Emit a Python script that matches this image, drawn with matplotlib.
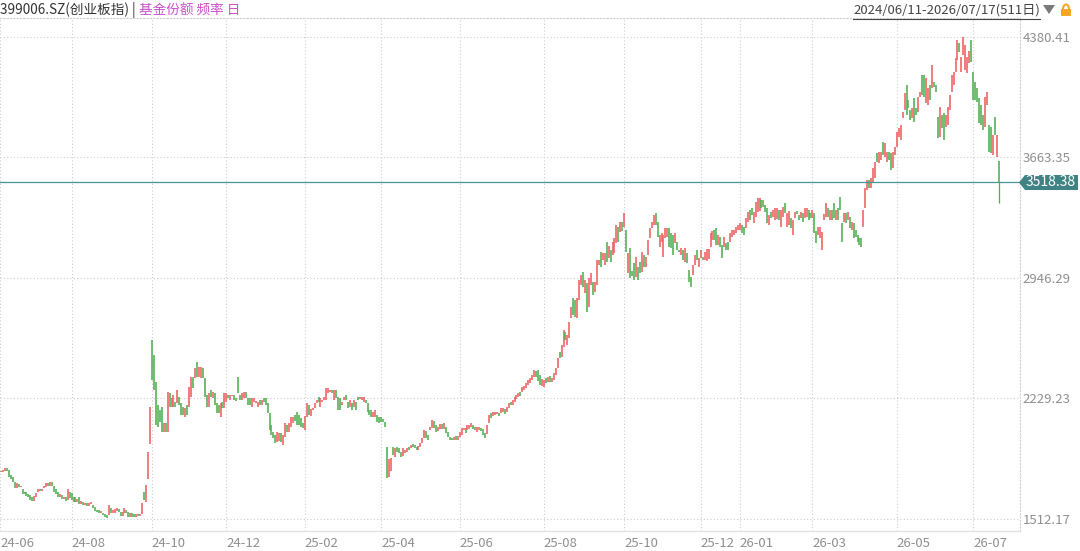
import matplotlib
matplotlib.use("Agg")
import matplotlib.pyplot as plt
from matplotlib.patches import Polygon, Rectangle, Arc
from matplotlib.lines import Line2D
import matplotlib.transforms as mtransforms

plt.rcParams['font.family'] = ['Noto Sans CJK SC', 'DejaVu Sans']

# (open, close) of each trading day, two months per list
s_2406 = [(1790, 1800), (1800, 1792), (1792, 1805), (1800, 1815), (1815, 1800), (1804, 1762), (1774, 1750), (1762, 1732), (1732, 1696), (1696, 1726),
          (1720, 1700), (1700, 1710), (1690, 1660), (1670, 1660), (1672, 1650), (1660, 1640), (1655, 1625), (1640, 1620), (1618, 1650), (1640, 1668),
          (1670, 1692), (1692, 1680), (1680, 1692), (1695, 1708), (1705, 1725), (1725, 1710), (1710, 1733), (1735, 1710), (1710, 1675), (1690, 1662),
          (1670, 1645), (1645, 1660), (1655, 1632), (1632, 1645), (1640, 1620), (1625, 1690), (1670, 1637)]
s_2408 = [(1665, 1625), (1640, 1615), (1640, 1615), (1615, 1630), (1640, 1600), (1600, 1620), (1612, 1595), (1595, 1610), (1610, 1590), (1590, 1610),
          (1600, 1615), (1595, 1577), (1583, 1560), (1565, 1555), (1565, 1548), (1548, 1560), (1548, 1535), (1540, 1524), (1535, 1518), (1535, 1595),
          (1580, 1545), (1545, 1565), (1550, 1570), (1560, 1580), (1570, 1555), (1555, 1530), (1530, 1555), (1545, 1575), (1565, 1550), (1555, 1525),
          (1525, 1545), (1545, 1525), (1540, 1522), (1525, 1540), (1540, 1528), (1528, 1540), (1540, 1610), (1672, 1625), (1615, 1715), (1750, 1910),
          (1960, 2180)]
s_2410 = [(2577, 2339), (2488, 2280), (2327, 2071), (2190, 2060), (2161, 2089), (2179, 2030), (2030, 2083), (2083, 2030), (2030, 2268), (2262, 2179),
          (2179, 2232), (2179, 2250), (2208, 2179), (2202, 2280), (2238, 2190), (2202, 2131), (2179, 2131), (2119, 2173), (2190, 2131), (2179, 2298),
          (2238, 2357), (2357, 2292), (2351, 2411), (2446, 2357), (2357, 2417), (2351, 2417), (2411, 2351), (2351, 2238), (2250, 2179), (2179, 2262),
          (2280, 2238), (2232, 2268), (2262, 2190), (2202, 2143), (2190, 2143), (2119, 2202), (2208, 2173), (2173, 2262), (2208, 2262)]
s_2412 = [(2250, 2232), (2220, 2250), (2245, 2250), (2250, 2220), (2230, 2215), (2357, 2262), (2250, 2220), (2220, 2262), (2232, 2268), (2268, 2232),
          (2232, 2190), (2232, 2190), (2179, 2232), (2208, 2232), (2200, 2215), (2179, 2208), (2220, 2190), (2190, 2220), (2232, 2208), (2232, 2190),
          (2202, 2143), (2143, 2042), (2071, 2012), (2030, 1994), (2012, 1964), (1970, 2030), (1976, 2024), (2024, 1970), (1952, 2012), (2000, 2083),
          (2071, 2030), (2030, 2083), (2060, 2119), (2083, 2119), (2131, 2095), (2149, 2071), (2131, 2071), (2113, 2060), (2083, 2054)]
s_2502 = [(2042, 2125), (2119, 2202), (2190, 2131), (2125, 2165), (2161, 2173), (2173, 2202), (2202, 2220), (2238, 2208), (2179, 2232), (2208, 2220),
          (2220, 2238), (2220, 2292), (2262, 2292), (2268, 2280), (2280, 2262), (2220, 2280), (2280, 2232), (2238, 2161), (2232, 2161), (2190, 2208),
          (2220, 2238), (2250, 2220), (2208, 2173), (2179, 2220), (2202, 2161), (2179, 2220), (2208, 2161), (2238, 2220), (2226, 2240), (2220, 2238),
          (2208, 2238), (2220, 2202), (2202, 2149), (2161, 2131), (2161, 2119), (2119, 2149), (2119, 2161), (2131, 2089), (2119, 2083)]
s_2504 = [(2119, 2089), (2110, 2089), (2089, 2060), (1940, 1756), (1760, 1870), (1800, 1875), (1940, 1893), (1880, 1934), (1940, 1911), (1934, 1905),
          (1911, 1880), (1887, 1934), (1905, 1922), (1911, 1934), (1940, 1925), (1934, 1952), (1958, 1940), (1952, 1934), (1940, 1922), (1920, 1946),
          (1940, 1964), (1964, 1994), (1994, 2042), (2036, 1994), (2012, 1982), (2042, 2060), (2054, 2101), (2095, 2054), (2071, 2030), (2036, 2060),
          (2048, 2077), (2077, 2048), (2048, 2083), (2060, 2024), (2030, 2000), (2000, 1982), (1995, 1982), (1982, 2000), (2006, 1982), (1982, 2006)]
s_2506 = [(2000, 2030), (2012, 2054), (2042, 2054), (2054, 2024), (2042, 2071), (2048, 2071), (2060, 2083), (2071, 2048), (2060, 2042), (2030, 2060),
          (2042, 2060), (2054, 2036), (2048, 2012), (2024, 1994), (2018, 2071), (2083, 2131), (2143, 2113), (2125, 2149), (2131, 2149), (2137, 2149),
          (2143, 2125), (2143, 2173), (2149, 2173), (2167, 2137), (2149, 2179), (2173, 2202), (2208, 2190), (2190, 2220), (2208, 2238), (2226, 2250),
          (2238, 2262), (2268, 2244), (2268, 2298), (2280, 2304), (2292, 2322), (2309, 2339), (2322, 2351), (2339, 2369), (2357, 2399), (2393, 2357),
          (2399, 2333), (2369, 2309), (2304, 2345)]
s_2508 = [(2298, 2339), (2351, 2322), (2327, 2357), (2363, 2327), (2327, 2351), (2339, 2381), (2369, 2411), (2411, 2470), (2506, 2470), (2476, 2548),
          (2536, 2637), (2625, 2577), (2548, 2607), (2590, 2684), (2708, 2773), (2827, 2726), (2815, 2714), (2708, 2827), (2815, 2934), (2904, 2964),
          (2982, 2892), (2857, 2934), (2916, 2744), (2773, 2946), (2904, 2976), (2922, 2845), (2863, 2922), (2904, 3053), (3023, 3053), (3100, 3012),
          (3053, 3094), (3023, 3094), (3160, 3041), (3064, 3136), (3112, 3041), (3083, 3160), (3094, 3184), (3154, 3261), (3249, 3160), (3220, 3279),
          (3279, 3226)]
s_2510 = [(3249, 3333), (3232, 3101), (2976, 3094), (3124, 2946), (2990, 2960), (3035, 2934), (2952, 3071), (3012, 2934), (3041, 2976), (2982, 3100),
          (3083, 3012), (3012, 3071), (3083, 3172), (3184, 3243), (3243, 3279), (3261, 3320), (3333, 3261), (3279, 3190), (3130, 3202), (3160, 3214),
          (3070, 3202), (3184, 3243), (3190, 3243), (3243, 3130), (3214, 3124), (3202, 3083), (3154, 3214), (3160, 3113), (3110, 3100), (3083, 3124),
          (3113, 3053), (3041, 3124), (3094, 3035), (2994, 2922), (2952, 2892), (2964, 3023), (3023, 3083), (3113, 3053), (3012, 3064)]
s_2512 = [(3064, 3113), (3070, 3053), (3053, 3100), (3050, 3118), (3060, 3118), (3130, 3214), (3172, 3226), (3232, 3172), (3243, 3142), (3142, 3202),
          (3190, 3130), (3142, 3064), (3130, 3190), (3154, 3113), (3160, 3113), (3160, 3214), (3190, 3232), (3202, 3232), (3214, 3249), (3232, 3261)]
s_2601 = [(3232, 3273), (3261, 3214), (3249, 3202), (3243, 3303), (3279, 3339), (3351, 3291), (3362, 3320), (3273, 3339), (3309, 3398), (3339, 3422),
          (3345, 3422), (3410, 3362), (3410, 3368), (3380, 3339), (3362, 3273), (3261, 3320), (3339, 3303), (3309, 3351), (3291, 3362), (3300, 3362),
          (3351, 3291), (3249, 3351), (3309, 3368), (3392, 3333), (3249, 3333), (3260, 3345), (3303, 3243), (3202, 3291), (3303, 3339), (3345, 3327),
          (3320, 3291), (3303, 3339), (3333, 3279), (3303, 3362), (3309, 3362), (3351, 3291), (3333, 3303)]
s_2603 = [(3303, 3351), (3333, 3214), (3226, 3154), (3202, 3249), (3184, 3249), (3113, 3220), (3291, 3327), (3309, 3392), (3362, 3309), (3291, 3351),
          (3351, 3291), (3392, 3303), (3291, 3351), (3362, 3291), (3428, 3351), (3273, 3160), (3279, 3333), (3333, 3273), (3291, 3339), (3309, 3243),
          (3232, 3279), (3273, 3184), (3232, 3190), (3202, 3160), (3184, 3142), (3184, 3130), (3249, 3351), (3363, 3480), (3470, 3529), (3529, 3482),
          (3482, 3541), (3517, 3600), (3541, 3636), (3690, 3636), (3630, 3696), (3648, 3696), (3755, 3678), (3666, 3749), (3636, 3696), (3696, 3648),
          (3690, 3589), (3600, 3696), (3678, 3725)]
s_2605 = [(3725, 3815), (3785, 3839), (3767, 3857), (3898, 3934), (3946, 4047), (4095, 3916), (4006, 3958), (3946, 3886), (3898, 3958), (4018, 3875),
          (3958, 3916), (3934, 4024), (4024, 4053), (4154, 4036), (4154, 4024), (3988, 4136), (3976, 4077), (4095, 4006), (4077, 4214), (4113, 4083),
          (4095, 4053), (3904, 3779), (3785, 3964), (3916, 3839), (3928, 3767), (3845, 3916), (3857, 3964), (3946, 4036), (4053, 4154), (4095, 4172),
          (4172, 4256), (4244, 4362), (4345, 4291), (4172, 4262), (4273, 4380), (4184, 4333), (4166, 4262), (4226, 4297), (4362, 4232)]
s_2607 = [(4172, 4006), (4113, 4006), (4077, 3994), (4018, 3869), (3976, 3857), (3916, 3827), (3845, 4024), (3976, 4053), (3857, 3696), (3845, 3690),
          (3678, 3797), (3904, 3797), (3666, 3797), (3640, 3518.38)]

segments = [s_2406, s_2408, s_2410, s_2412, s_2502, s_2504, s_2506, s_2508,
            s_2510, s_2512, s_2601, s_2603, s_2605, s_2607]

tick_labels = ['24-06', '24-08', '24-10', '24-12', '25-02', '25-04', '25-06',
               '25-08', '25-10', '25-12', '26-01', '26-03', '26-05', '26-07']
tick_pos = [0.5, 37, 78, 116, 156, 195, 235, 278, 319, 358, 378, 415, 458, 497]
price_ticks = [1512.17, 2229.23, 2946.29, 3663.35, 4380.41]
last_price = 3518.38
last_low = 3395

UP = '#ef5f5f'
DOWN = '#4fae4f'
GRID = '#cdcdcd'

W, H = 1080, 551
fig = plt.figure(figsize=(W / 100, H / 100), dpi=100)
ax = fig.add_axes([0, 20 / H, 1020 / W, 513 / H])


def px(x, y):
    # pixel position (from top-left) -> figure fraction
    return (x / W, 1 - y / H)


candles = [c for seg in segments for c in seg]
xs = list(range(len(candles)))
lo, hi, col = [], [], []
for o, c in candles:
    a, b = min(o, c), max(o, c)
    if b - a < 8:
        m = (a + b) / 2
        a, b = m - 4, m + 4
    lo.append(a)
    hi.append(b)
    col.append(UP if c > o else DOWN)
ax.vlines(xs, lo, hi, colors=col, linewidth=1.15)
ax.vlines(xs[-1], last_low, last_price, colors=DOWN, linewidth=0.9)

ax.axhline(last_price, color='#4b9494', linewidth=0.9, zorder=3)

ax.set_xlim(0.5, 520.9)
ax.set_ylim(1440.6, 4493.5)
ax.set_xticks(tick_pos)
ax.set_xticklabels(tick_labels)
shift = mtransforms.ScaledTranslation(2 / 72, 0, fig.dpi_scale_trans)
for t in ax.get_xticklabels():
    t.set_ha('left')
    t.set_transform(t.get_transform() + shift)
ax.set_yticks(price_ticks)
ax.set_yticklabels([f'{v:.2f}' for v in price_ticks])
ax.yaxis.tick_right()
ax.tick_params(axis='x', length=0, pad=4, labelsize=9.5, labelcolor='#8f8f8f')
ax.tick_params(axis='y', length=0, pad=2, labelsize=9.5, labelcolor='#8f8f8f')
ax.grid(True, color=GRID, linestyle=(0, (1, 2)), linewidth=0.8)
ax.set_axisbelow(True)
ax.spines['left'].set_visible(False)
for s in ['top', 'right']:
    ax.spines[s].set_color(GRID)
    ax.spines[s].set_linestyle((0, (1, 2)))
    ax.spines[s].set_linewidth(0.8)
ax.spines['bottom'].set_color('#e2e2e2')
ax.spines['bottom'].set_linewidth(1.0)

# current price tag
tag = Polygon([px(1019, 182.5), px(1025, 175), px(1078, 175), px(1078, 190), px(1025, 190)],
              closed=True, transform=fig.transFigure, facecolor='#3f8384', edgecolor='none')
fig.add_artist(tag)
fig.text(*px(1051, 182.5), f'{last_price:.2f}', color='white', fontsize=10,
         ha='center', va='center')

# header
t1 = fig.text(*px(0, 10), '399006.SZ(创业板指) | ', fontsize=9.8, color='#333333',
              ha='left', va='center')
ax.annotate('基金份额 频率 日', xy=(1, 0.5), xycoords=t1, fontsize=9.8, color='#cc52cc',
            ha='left', va='center', annotation_clip=False)
t2 = fig.text(*px(1040, 10), '2024/06/11-2026/07/17(511日)', fontsize=9.5, color='#444444',
              ha='right', va='center')
fig.canvas.draw()
bb = t2.get_window_extent()
fig.add_artist(Line2D([bb.x0 / W, bb.x1 / W], [1 - 19 / H, 1 - 19 / H],
                      transform=fig.transFigure, color='#444444', linewidth=0.8))
fig.add_artist(Polygon([px(1043, 5), px(1055, 5), px(1049, 14)], closed=True,
                       transform=fig.transFigure, facecolor='#7a7a7a', edgecolor='none'))
fig.add_artist(Rectangle(px(1061, 16), 10 / W, 7 / H, transform=fig.transFigure,
                         facecolor='#f5a623', edgecolor='none'))
fig.add_artist(Arc(px(1066, 9), 6 / W, 9 / H, theta1=0, theta2=180,
                   transform=fig.transFigure, color='#f5a623', linewidth=1.5))

fig.savefig('out.png', dpi=100)
